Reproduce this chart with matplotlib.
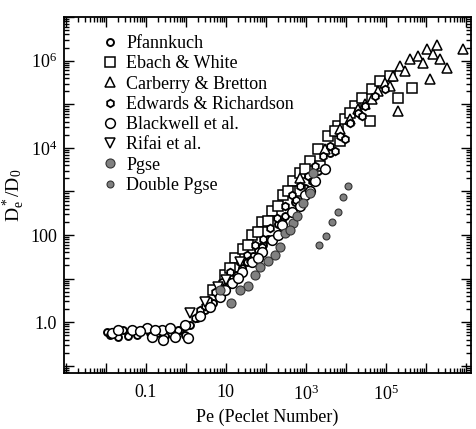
import numpy as np
import matplotlib.pyplot as plt
from matplotlib.ticker import FixedLocator, LogLocator, NullFormatter

plt.rcParams['font.family'] = ['Liberation Serif', 'DejaVu Serif']
plt.rcParams['mathtext.fontset'] = 'custom'
plt.rcParams['mathtext.rm'] = 'Liberation Serif'
plt.rcParams['mathtext.it'] = 'Liberation Serif:italic'

# Pfannkuch
pf_x = [0.0106, 0.020, 0.0266, 0.0596, 0.079, 0.188, 0.40, 0.71, 1.26, 1.88, 2.99, 4.73,
        9.4, 17.8, 33.5, 63, 112, 200,
        0.0126, 0.0355, 0.126, 0.30, 0.63, 0.94,
        2.24, 3.55, 6.3, 12.6, 25.1, 47, 84, 299, 531, 944, 2000, 3980]
pf_y = [0.59, 0.45, 0.66, 0.50, 0.66, 0.56, 0.56, 0.66, 0.85, 1.24, 1.88, 2.72,
        5.4, 11.9, 23.6, 44.5, 83, 175,
        0.50, 0.48, 0.56, 0.48, 0.66, 0.50,
        1.52, 2.45, 4.15, 8.2, 17.2, 32.4, 58, 280, 560, 1170, 3000, 7800]

# Ebach & White
eb_x = [4.73, 9.4, 16.8, 26.6, 44.7, 79, 141, 266, 473, 708, 1260, 2000, 3550, 6310,
        9440, 16800, 25100, 44700, 70800, 126000, 708, 2240, 7080, 39800, 200000, 447000,
        12.6, 35.5, 63, 112, 200, 355, 944, 5310, 12600]
eb_y = [5.4, 11.9, 29, 49, 98, 195, 363, 813, 1780, 2690, 5130, 9550, 19000, 32400,
        46800, 93300, 141000, 224000, 347000, 447000, 1050, 3890, 14500, 41700, 141000, 240000,
        17.2, 58, 115, 215, 475, 1050, 3330, 24700, 64000]

# Carberry & Bretton
cb_x = [708, 2990, 12600, 29900, 63100, 94400, 150000, 224000, 299000, 398000, 631000,
        841000, 1.06e6, 1.5e6, 1.88e6, 2.24e6, 3.35e6, 1.26e6, 200000, 8.41e6,
        7080, 20000, 44700, 126000]
cb_y = [1990, 9550, 46800, 102000, 204000, 309000, 447000, 759000, 589000, 1.1e6, 1.29e6,
        891000, 1.86e6, 1.44e6, 2.29e6, 1.1e6, 692000, 380000, 71000, 1.86e6,
        27500, 79000, 134000, 265000]

# Edwards & Richardson
ed_x = [1.68, 2.24, 3.55, 5.31, 7.94, 12.6, 22.4, 33.5, 53, 84, 126, 188, 299, 447,
        708, 1120, 1680, 2660, 3980, 7080, 12600, 20000, 29900, 53100,
        2.99, 10, 39.8, 79, 251, 562, 1410, 5310, 9440, 25100, 94400]
ed_y = [1.24, 1.88, 3.18, 4.86, 8.2, 13.9, 23.6, 34, 58, 83, 142, 240, 475, 813,
        1350, 2290, 3890, 6610, 11200, 19000, 38000, 64600, 93300, 156000,
        2.32, 6.7, 26.2, 52, 194, 620, 1780, 8600, 16200, 55000, 225000]

# Blackwell et al.
bw_x = [0.0141, 0.0447, 0.106, 0.141, 0.25, 0.266, 0.53, 1.12, 0.94,
        2.24, 3.98, 7.08, 14.1, 25.1, 44.7, 79.4, 141, 251, 447, 944, 1680, 2990,
        0.02, 0.071, 0.40, 0.168, 9.4, 19.9, 63, 200, 708, 1260]
bw_y = [0.56, 0.66, 0.73, 0.45, 0.66, 0.39, 0.45, 0.43, 0.85,
        1.37, 2.2, 3.73, 7.8, 13.9, 23.6, 40, 75, 166, 330, 813, 1780, 3330,
        0.66, 0.62, 0.73, 0.66, 5.4, 10.2, 29, 98, 475, 1050]

# Rifai et al.
rf_x = [1.26, 2.99, 6.3, 10, 22.4]
rf_y = [1.61, 2.87, 6.3, 9.1, 23.6]

# Pgse
pg_x = [7.1, 13.3, 35.5, 71, 112, 224, 299, 473, 841, 1260, 1500,
        22.4, 53, 168, 398, 596]
pg_y = [5.4, 2.7, 6.7, 18, 26, 52, 110, 185, 530, 940, 2700,
        5.4, 11.9, 34, 127, 280]

# Double Pgse
dp_x = [11200, 8400, 6300, 4470, 3160, 2110]
dp_y = [1350, 760, 330, 195, 93, 58]

fig = plt.figure(figsize=(4.77, 4.29), dpi=100)
ax = fig.add_axes([0.134, 0.1305, 0.853, 0.8295])

lw = 1.1
ax.plot(pf_x, pf_y, 'o', ms=5, mfc='white', mec='black', mew=1.4, label='Pfannkuch')
ax.plot(eb_x, eb_y, 's', ms=6.5, mfc='white', mec='black', mew=lw, label='Ebach & White')
ax.plot(cb_x, cb_y, '^', ms=7, mfc='white', mec='black', mew=lw, label='Carberry & Bretton')
ax.plot(ed_x, ed_y, 'h', ms=5.5, mfc='white', mec='black', mew=1.3, label='Edwards & Richardson')
ax.plot(bw_x, bw_y, 'o', ms=7, mfc='white', mec='black', mew=lw, label='Blackwell et al.')
ax.plot(rf_x, rf_y, 'v', ms=7, mfc='white', mec='black', mew=lw, label='Rifai et al.')
ax.plot(pg_x, pg_y, 'o', ms=6.5, mfc='0.5', mec='0.2', mew=0.8, label='Pgse')
ax.plot(dp_x, dp_y, 'o', ms=5, mfc='0.5', mec='0.2', mew=0.8, label='Double Pgse')

ax.set_xscale('log')
ax.set_yscale('log')
ax.set_xlim(10**-3.05, 10**7.125)
ax.set_ylim(10**-1.167, 10**7.0)

xdec = [10.0**k for k in range(-3, 8)]
ax.xaxis.set_major_locator(FixedLocator(xdec))
xlab = {0.1: '0.1', 10.0: '10', 1e3: r'$10^3$', 1e5: r'$10^5$'}
ax.set_xticklabels([xlab.get(v, '') for v in xdec])
ax.xaxis.set_minor_locator(LogLocator(base=10, subs=np.arange(2, 10), numticks=50))
ax.xaxis.set_minor_formatter(NullFormatter())

ydec = [10.0**k for k in range(-1, 8)]
ax.yaxis.set_major_locator(FixedLocator(ydec))
ylab = {1.0: '1.0', 100.0: '100', 1e4: r'$10^4$', 1e6: r'$10^6$'}
ax.set_yticklabels([ylab.get(v, '') for v in ydec])
ax.yaxis.set_minor_locator(LogLocator(base=10, subs=np.arange(2, 10), numticks=50))
ax.yaxis.set_minor_formatter(NullFormatter())

ax.tick_params(which='both', direction='in', top=True, right=True, width=1.0)
ax.tick_params(which='major', length=7, labelsize=13)
ax.tick_params(which='minor', length=3.5)
ax.tick_params(axis='x', which='major', pad=8)
ax.tick_params(axis='y', which='major', pad=5)
for s in ax.spines.values():
    s.set_linewidth(1.3)

ax.set_xlabel('Pe (Peclet Number)', fontsize=13, labelpad=4)
ax.set_ylabel(r'$\mathrm{D_e^*/D_0}$', fontsize=14, labelpad=2)

ax.legend(loc='upper left', bbox_to_anchor=(0.06, 0.985), frameon=False, fontsize=13,
          labelspacing=0.18, handletextpad=0.4, handlelength=1.0, borderpad=0.2)

fig.savefig('out.png', dpi=100)
